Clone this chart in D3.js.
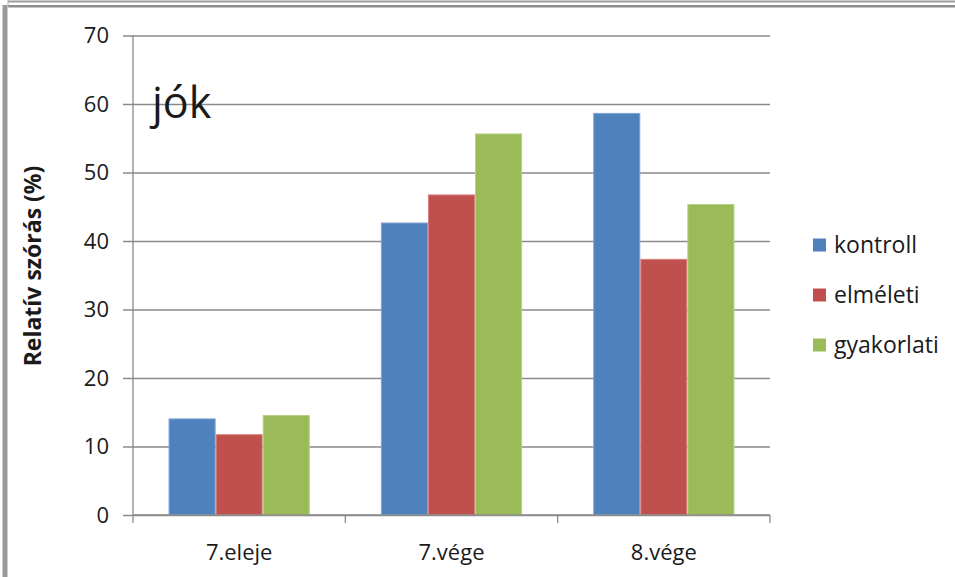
<!DOCTYPE html>
<html>
<head>
<meta charset="utf-8">
<script src="https://cdn.jsdelivr.net/npm/d3@7"></script>
<style>
  html, body { margin: 0; padding: 0; background: #fff; }
  svg { display: block; }
  text { font-family: "Open Sans", "Noto Sans", sans-serif; fill: #1a1a1a; }
</style>
</head>
<body>
<svg id="chart" width="955" height="577"></svg>
<script>
// Relative standard deviation per measurement point and group
const categories = ["7.eleje", "7.vége", "8.vége"];
const seriesNames = ["kontroll", "elméleti", "gyakorlati"];
const kontroll = [14.1, 42.7, 58.7];
const elmeleti = [11.8, 46.8, 37.4];
const gyakorlati = [14.6, 55.7, 45.4];
const yTicks = [0, 10, 20, 30, 40, 50, 60, 70];
const colors = ["#4F81BD", "#C0504D", "#9BBB59"];
const edgeColors = ["#7FA3D3", "#D88380", "#B6D185"];

const values = [kontroll, elmeleti, gyakorlati];

const svg = d3.select("#chart");
const W = 955, H = 577;

// window frame
svg.append("rect").attr("x", 8).attr("y", 0.5).attr("width", W - 8).attr("height", 2).attr("fill", "#9c9c9c");
svg.append("rect").attr("x", 8).attr("y", 5).attr("width", W - 8).attr("height", 2.5).attr("fill", "#8e8e8e");
svg.append("rect").attr("x", 2.5).attr("y", 5).attr("width", 5).attr("height", H - 5).attr("fill", "#9a9a9a");
svg.append("rect").attr("x", 7.5).attr("y", 0).attr("width", 1).attr("height", 7).attr("fill", "#b0b0b0");

const plot = { left: 133, right: 770, top: 35.5, bottom: 515 };

const y = d3.scaleLinear().domain([0, 70]).range([plot.bottom, plot.top]);
const x0 = d3.scaleBand().domain(categories).range([plot.left, plot.right]).paddingInner(0.335).paddingOuter(0.1675);
const x1 = d3.scaleBand().domain(seriesNames).range([0, x0.bandwidth()]);

// horizontal gridlines with left tick marks
const yAxis = d3.axisLeft(y).tickValues(yTicks).tickSize(plot.right - plot.left + 10).tickPadding(14).tickFormat(d3.format("d"));
const gy = svg.append("g").attr("transform", `translate(${plot.right},0)`).call(yAxis);
gy.select(".domain").remove();
gy.selectAll(".tick line").attr("stroke", "#8a8a8a").attr("stroke-width", 1.3);
gy.selectAll(".tick text").attr("font-size", 22).attr("fill", "#1a1a1a");

// y axis line
svg.append("line")
  .attr("x1", plot.left).attr("x2", plot.left)
  .attr("y1", plot.top).attr("y2", plot.bottom)
  .attr("stroke", "#8a8a8a").attr("stroke-width", 1.3);

// bars
const groups = svg.append("g").selectAll("g")
  .data(categories)
  .join("g")
  .attr("transform", d => `translate(${x0(d)},0)`);

groups.selectAll("rect")
  .data((c, ci) => seriesNames.map((s, si) => ({ s, si, v: values[si][ci] })))
  .join("rect")
  .attr("x", d => x1(d.s) + 0.5)
  .attr("y", d => y(d.v) + 0.5)
  .attr("width", x1.bandwidth() - 1)
  .attr("height", d => y(0) - y(d.v) - 0.5)
  .attr("fill", d => colors[d.si])
  .attr("stroke", d => edgeColors[d.si])
  .attr("stroke-width", 1);

// x axis baseline with category separators
const step = (plot.right - plot.left) / categories.length;
svg.append("line")
  .attr("x1", plot.left).attr("x2", plot.right)
  .attr("y1", plot.bottom).attr("y2", plot.bottom)
  .attr("stroke", "#8a8a8a").attr("stroke-width", 1.3);
svg.append("g").selectAll("line")
  .data(d3.range(categories.length + 1))
  .join("line")
  .attr("x1", i => plot.left + i * step).attr("x2", i => plot.left + i * step)
  .attr("y1", plot.bottom).attr("y2", plot.bottom + 8)
  .attr("stroke", "#8a8a8a").attr("stroke-width", 1.3);

svg.append("g").selectAll("text")
  .data(categories)
  .join("text")
  .attr("x", d => x0(d) + x0.bandwidth() / 2)
  .attr("y", 560)
  .attr("text-anchor", "middle")
  .attr("font-size", 22)
  .text(d => d);

// y axis title
svg.append("text")
  .attr("transform", `translate(41,266) rotate(-90)`)
  .attr("text-anchor", "middle")
  .attr("font-size", 23)
  .attr("font-weight", "bold")
  .attr("fill", "#000")
  .text("Relatív szórás (%)");

// panel label
svg.append("text")
  .attr("x", 152).attr("y", 118)
  .attr("font-size", 43)
  .attr("fill", "#000")
  .text("jók");

// legend
const legend = svg.append("g").selectAll("g")
  .data(seriesNames)
  .join("g")
  .attr("transform", (d, i) => `translate(813,${245 + i * 50})`);
legend.append("rect")
  .attr("x", 0).attr("y", -6.5)
  .attr("width", 13).attr("height", 13)
  .attr("fill", (d, i) => colors[i]);
legend.append("text")
  .attr("x", 21).attr("y", 8)
  .attr("font-size", 23)
  .text(d => d);
</script>
</body>
</html>
